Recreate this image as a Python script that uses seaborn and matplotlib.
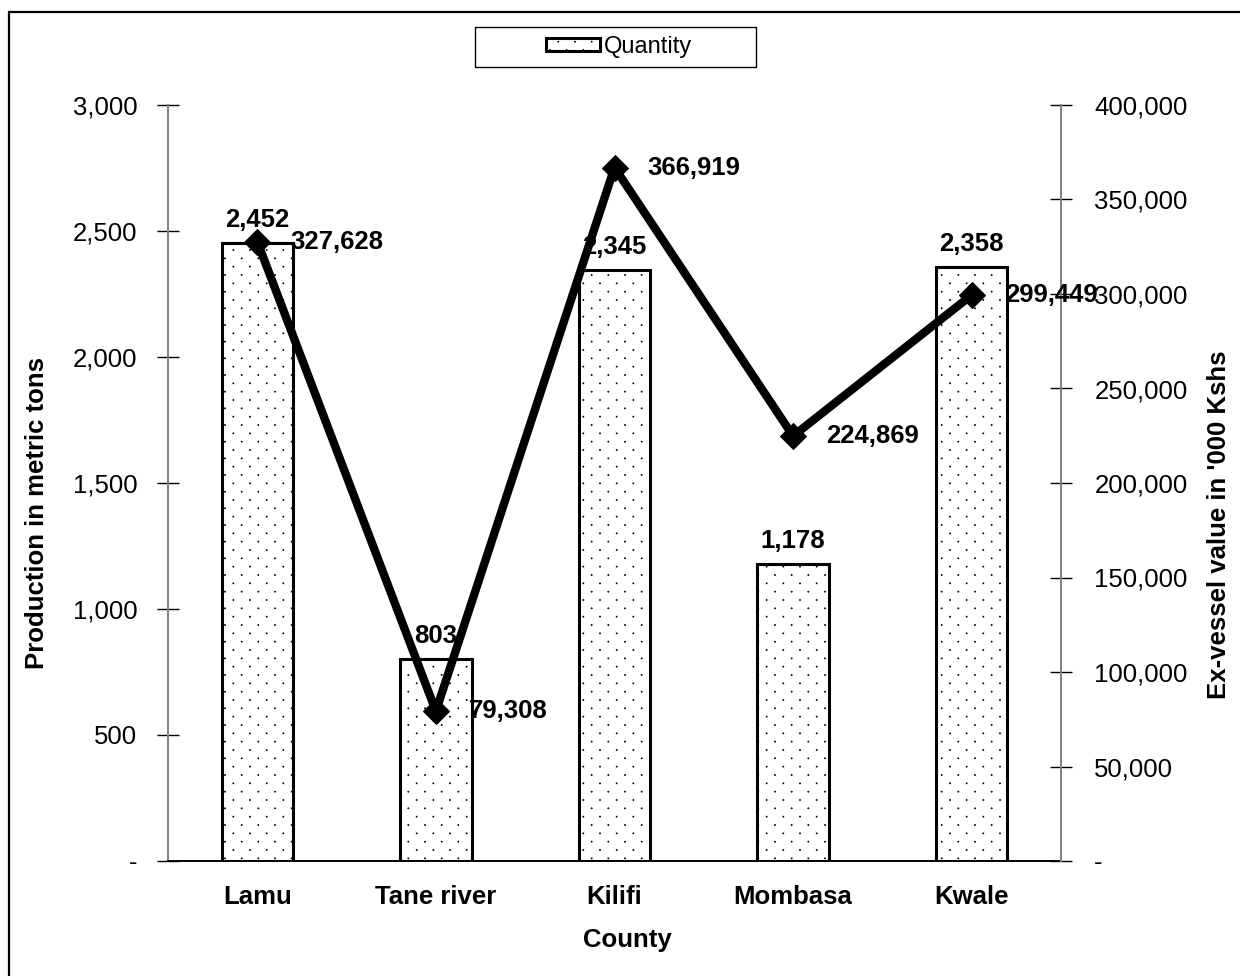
import matplotlib
matplotlib.use("Agg")
import matplotlib.pyplot as plt
import matplotlib.hatch as mhatch
from matplotlib.path import Path
from matplotlib.patches import Rectangle
from matplotlib.ticker import FuncFormatter, MultipleLocator
import numpy as np
import seaborn as sns

counties = ["Lamu", "Tane river", "Kilifi", "Mombasa", "Kwale"]
quantity = [2452, 803, 2345, 1178, 2358]
value = [327628, 79308, 366919, 224869, 299449]


class DotLattice(mhatch.HatchPatternBase):
    """Fine staggered dots for '.': rows sit twice as close as the columns."""
    radius = 0.005

    def __init__(self, hatch, density):
        self.cols = hatch.count(".") * density
        circle = Path.unit_circle()
        self.shape_vertices = circle.vertices
        self.shape_codes = circle.codes
        if self.cols:
            self.rows = 2 * self.cols
            self.num_shapes = ((self.rows // 2 + 1) * (self.cols + 1)
                               + (self.rows // 2) * self.cols)
        else:
            self.rows = 0
            self.num_shapes = 0
        self.num_vertices = self.num_shapes * len(self.shape_vertices)

    def set_vertices_and_codes(self, vertices, codes):
        shape = self.shape_vertices * self.radius
        parts = []
        for i in range(self.rows + 1):
            y = i / self.rows
            if i % 2 == 0:
                xs = np.arange(self.cols + 1) / self.cols
            else:
                xs = (np.arange(self.cols) + 0.5) / self.cols
            for x in xs:
                parts.append(shape + [x, y])
        vertices[:] = np.concatenate(parts)
        codes[:] = np.tile(self.shape_codes, self.num_shapes)


mhatch._hatch_types = [DotLattice if t is mhatch.SmallFilledCircles else t
                       for t in mhatch._hatch_types]

sns.set_style("white")
plt.rcParams["font.family"] = ["Liberation Sans", "DejaVu Sans"]
plt.rcParams["hatch.linewidth"] = 0.6
plt.rcParams["hatch.color"] = "black"
for key in ("text.color", "axes.labelcolor", "xtick.color", "ytick.color"):
    plt.rcParams[key] = "black"

FS = 18.5
W, H = 1240, 976
fig = plt.figure(figsize=(W / 100, H / 100), dpi=100)
ax = fig.add_axes([168 / W, 1 - 861 / H, (1061 - 168) / W, (861 - 105) / H])
ax2 = ax.twinx()

sns.barplot(x=counties, y=quantity, ax=ax, width=0.4, color="white",
            edgecolor="black", linewidth=2.2, hatch=".", errorbar=None,
            zorder=2)

pos = np.arange(len(counties))
sns.lineplot(x=pos, y=value, ax=ax2, color="black", linewidth=6,
             marker="D", markersize=13, markeredgecolor="black", zorder=3)

ax.set_xlim(-0.5, len(counties) - 0.5)
ax.set_ylim(0, 3000)
ax2.set_ylim(0, 400000)


def fmt(v, _):
    return "-" if v == 0 else f"{v:,.0f}"


ax.yaxis.set_major_locator(MultipleLocator(500))
ax2.yaxis.set_major_locator(MultipleLocator(50000))
ax.yaxis.set_major_formatter(FuncFormatter(fmt))
ax2.yaxis.set_major_formatter(FuncFormatter(fmt))

# category labels at centres, tick marks at category boundaries
ax.set_xticks(pos)
ax.set_xticklabels(counties, fontsize=FS, fontweight="bold")
ax.set_xticks(np.arange(-0.5, len(counties)), minor=True)
ax.tick_params(axis="x", which="major", length=0, pad=17)
ax.tick_params(axis="x", which="minor", direction="inout", length=16,
               width=1, color="black")
ax.tick_params(axis="y", direction="inout", length=16, width=1,
               color="black", labelsize=FS, pad=14)
ax2.tick_params(axis="y", direction="inout", length=16, width=1,
                color="black", labelsize=FS, pad=16)

for a in (ax, ax2):
    a.spines["top"].set_visible(False)
ax.spines["right"].set_visible(False)
ax2.spines["left"].set_visible(False)
ax2.spines["bottom"].set_visible(False)
ax.spines["left"].set_color("#808080")
ax.spines["bottom"].set_color("black")
ax2.spines["right"].set_color("#808080")
for s in (ax.spines["left"], ax.spines["bottom"], ax2.spines["right"]):
    s.set_linewidth(1.4)

ax.set_xlabel("County", fontsize=FS, fontweight="bold")
ax.set_ylabel("Production in metric tons", fontsize=FS, fontweight="bold")
ax2.set_ylabel("Ex-vessel value in '000 Kshs", fontsize=FS, fontweight="bold",
               rotation=90)
ax.xaxis.set_label_coords((627 - 168) / 893, -(928 - 861) / 756)
ax.yaxis.set_label_coords((49 - 168) / 893, 1 - (513 - 105) / 756)
ax2.yaxis.set_label_coords((1207 - 168) / 893, 1 - (525 - 105) / 756)

# value labels
for x, q in zip(pos, quantity):
    ax.annotate(f"{q:,}", (x, q), xytext=(0, 8), textcoords="offset points",
                ha="center", va="bottom", fontsize=FS, fontweight="bold")
for x, v in zip(pos, value):
    ax2.annotate(f"{v:,}", (x, v), xytext=(24, 0), textcoords="offset points",
                 ha="left", va="center", fontsize=FS, fontweight="bold")

ax.set_zorder(1)
ax2.set_zorder(2)
ax.patch.set_visible(False)

# legend with its own box
fig.legend(handles=ax.patches[:1], labels=["Quantity"], loc="center",
           bbox_to_anchor=(619 / W, 1 - 47 / H), frameon=False,
           fontsize=17, handlelength=2.3, handleheight=0.45,
           handletextpad=0.15)
fig.add_artist(Rectangle((475 / W, 1 - 67 / H), 281 / W, 40 / H,
                         transform=fig.transFigure, fill=False,
                         edgecolor="black", linewidth=1))

# outer chart frame
fig.add_artist(Rectangle((9 / W, -0.1), 1.2, 1 - 12 / H + 0.1,
                         transform=fig.transFigure, fill=False,
                         edgecolor="black", linewidth=1.6))

fig.savefig("out.png", dpi=100)
